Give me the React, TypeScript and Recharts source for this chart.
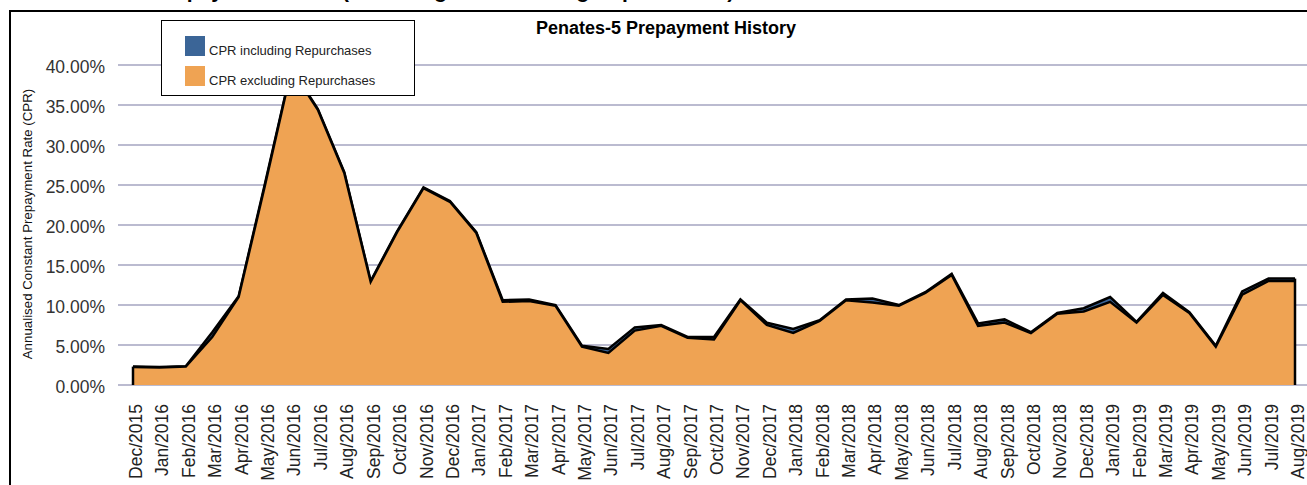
import React from 'react';
import { AreaChart, Area, XAxis, YAxis, CartesianGrid, ReferenceLine, Label } from 'recharts';

const months = [
  'Dec/2015', 'Jan/2016', 'Feb/2016', 'Mar/2016', 'Apr/2016', 'May/2016', 'Jun/2016', 'Jul/2016',
  'Aug/2016', 'Sep/2016', 'Oct/2016', 'Nov/2016', 'Dec/2016', 'Jan/2017', 'Feb/2017', 'Mar/2017',
  'Apr/2017', 'May/2017', 'Jun/2017', 'Jul/2017', 'Aug/2017', 'Sep/2017', 'Oct/2017', 'Nov/2017',
  'Dec/2017', 'Jan/2018', 'Feb/2018', 'Mar/2018', 'Apr/2018', 'May/2018', 'Jun/2018', 'Jul/2018',
  'Aug/2018', 'Sep/2018', 'Oct/2018', 'Nov/2018', 'Dec/2018', 'Jan/2019', 'Feb/2019', 'Mar/2019',
  'Apr/2019', 'May/2019', 'Jun/2019', 'Jul/2019', 'Aug/2019',
];

// CPR in percent
const cprIncl = [
  2.3, 2.25, 2.35, 6.6, 11.1, 25.2, 39.6, 34.5, 26.6, 13.0,
  19.2, 24.7, 23.0, 19.1, 10.6, 10.7, 10.0, 4.9, 4.5, 7.2,
  7.5, 6.0, 6.0, 10.7, 7.8, 7.0, 8.1, 10.7, 10.8, 10.0,
  11.6, 13.9, 7.7, 8.2, 6.6, 9.0, 9.6, 11.0, 7.9, 11.5,
  9.1, 4.9, 11.7, 13.3, 13.3,
];

const cprExcl = [
  2.25, 2.2, 2.3, 6.0, 11.0, 25.0, 39.5, 34.4, 26.5, 12.9,
  19.1, 24.6, 22.9, 19.0, 10.4, 10.5, 9.9, 4.8, 4.0, 6.8,
  7.4, 5.9, 5.7, 10.6, 7.5, 6.5, 8.0, 10.6, 10.3, 9.9,
  11.5, 13.75, 7.4, 7.8, 6.5, 8.9, 9.2, 10.4, 7.8, 11.25,
  9.0, 4.8, 11.3, 13.0, 13.0,
];

const yTicks = [0, 5, 10, 15, 20, 25, 30, 35, 40];

const seriesNames = ['CPR including Repurchases', 'CPR excluding Repurchases'];

const data = months.map((m, i) => ({ month: m, incl: cprIncl[i], excl: cprExcl[i] }));

const FONT = '"Liberation Sans", Arial, sans-serif';
const ORANGE = '#EFA353';
const BLUE = '#3B6597';
const seriesColors = [BLUE, ORANGE];

const XTick = ({ x, y, payload }: any) => (
  <text
    transform={`translate(${x + 9},${y + 19}) rotate(-90)`}
    textAnchor="end"
    fontSize={17.5}
    fontFamily={FONT}
    fill="#222"
  >
    {payload.value}
  </text>
);

const YTick = ({ x, y, payload }: any) => (
  <text x={x} y={y + 8} textAnchor="end" fontSize={17.5} fontFamily={FONT} fill="#333">
    {`${payload.value.toFixed(2)}%`}
  </text>
);

const LegendBox = () => (
  <svg width={254} height={76} style={{ position: 'absolute', left: 161, top: 20 }}>
    <rect x={0.5} y={0.5} width={253} height={75} fill="#fff" stroke="#000" strokeWidth={1} />
    {seriesNames.map((name, i) => (
      <g key={name}>
        <rect x={24} y={16 + i * 30} width={20} height={20} fill={seriesColors[i]} />
        <text x={48} y={35 + i * 30} fontSize={13} fontFamily={FONT} fill="#222">
          {name}
        </text>
      </g>
    ))}
  </svg>
);

export default function App() {
  const last = months.length - 1;
  return (
    <div
      style={{
        position: 'fixed',
        left: 0,
        top: 0,
        width: 1307,
        height: 485,
        overflow: 'hidden',
        background: '#fff',
        fontFamily: FONT,
      }}
    >
      <div
        style={{
          position: 'absolute',
          left: 153,
          top: -20,
          fontSize: 21,
          fontWeight: 'bold',
          lineHeight: '21px',
          whiteSpace: 'nowrap',
          color: '#000',
        }}
      >
        Prepayment Rates (excluding and including Repurchases)
      </div>
      <div
        style={{
          position: 'absolute',
          left: 9,
          top: 10,
          width: 1400,
          height: 600,
          borderLeft: '2px solid #000',
          borderTop: '2px solid #000',
        }}
      />
      <div
        style={{
          position: 'absolute',
          left: 0,
          top: 19,
          width: 1320,
          textAlign: 'center',
          paddingLeft: 6,
          fontSize: 18,
          fontWeight: 'bold',
          lineHeight: '18px',
          color: '#000',
        }}
      >
        Penates-5 Prepayment History
      </div>
      <div style={{ position: 'absolute', left: 0, top: 0 }}>
        <AreaChart width={1320} height={485} data={data} margin={{ top: 65, right: 0, bottom: 0, left: 0 }}>
          <CartesianGrid vertical={false} stroke="#BBBBD0" strokeWidth={2} />
          <XAxis
            dataKey="month"
            interval={0}
            height={100}
            padding={{ left: 15, right: 25 }}
            axisLine={false}
            tickLine={false}
            tickSize={0}
            tickMargin={0}
            tick={<XTick />}
          />
          <YAxis
            domain={[0, 40]}
            ticks={yTicks}
            width={118}
            axisLine={false}
            tickLine={false}
            tickSize={0}
            tickMargin={13}
            tick={<YTick />}
          >
            <Label
              content={() => (
                <text
                  transform="translate(32,224) rotate(-90)"
                  textAnchor="middle"
                  fontSize={13.3}
                  fontFamily={FONT}
                  fill="#111"
                >
                  Annualised Constant Prepayment Rate (CPR)
                </text>
              )}
            />
          </YAxis>
          <Area
            type="linear"
            dataKey="incl"
            name={seriesNames[0]}
            fill={BLUE}
            fillOpacity={1}
            stroke="#000"
            strokeWidth={2.5}
            isAnimationActive={false}
            dot={false}
            activeDot={false}
          />
          <Area
            type="linear"
            dataKey="excl"
            name={seriesNames[1]}
            fill={ORANGE}
            fillOpacity={1}
            stroke="#000"
            strokeWidth={2.5}
            isAnimationActive={false}
            dot={false}
            activeDot={false}
          />
          <ReferenceLine
            segment={[{ x: months[0], y: 0 }, { x: months[0], y: cprIncl[0] }]}
            stroke="#000"
            strokeWidth={2.5}
          />
          <ReferenceLine
            segment={[{ x: months[last], y: 0 }, { x: months[last], y: cprIncl[last] }]}
            stroke="#000"
            strokeWidth={2.5}
          />
        </AreaChart>
      </div>
      <LegendBox />
    </div>
  );
}
